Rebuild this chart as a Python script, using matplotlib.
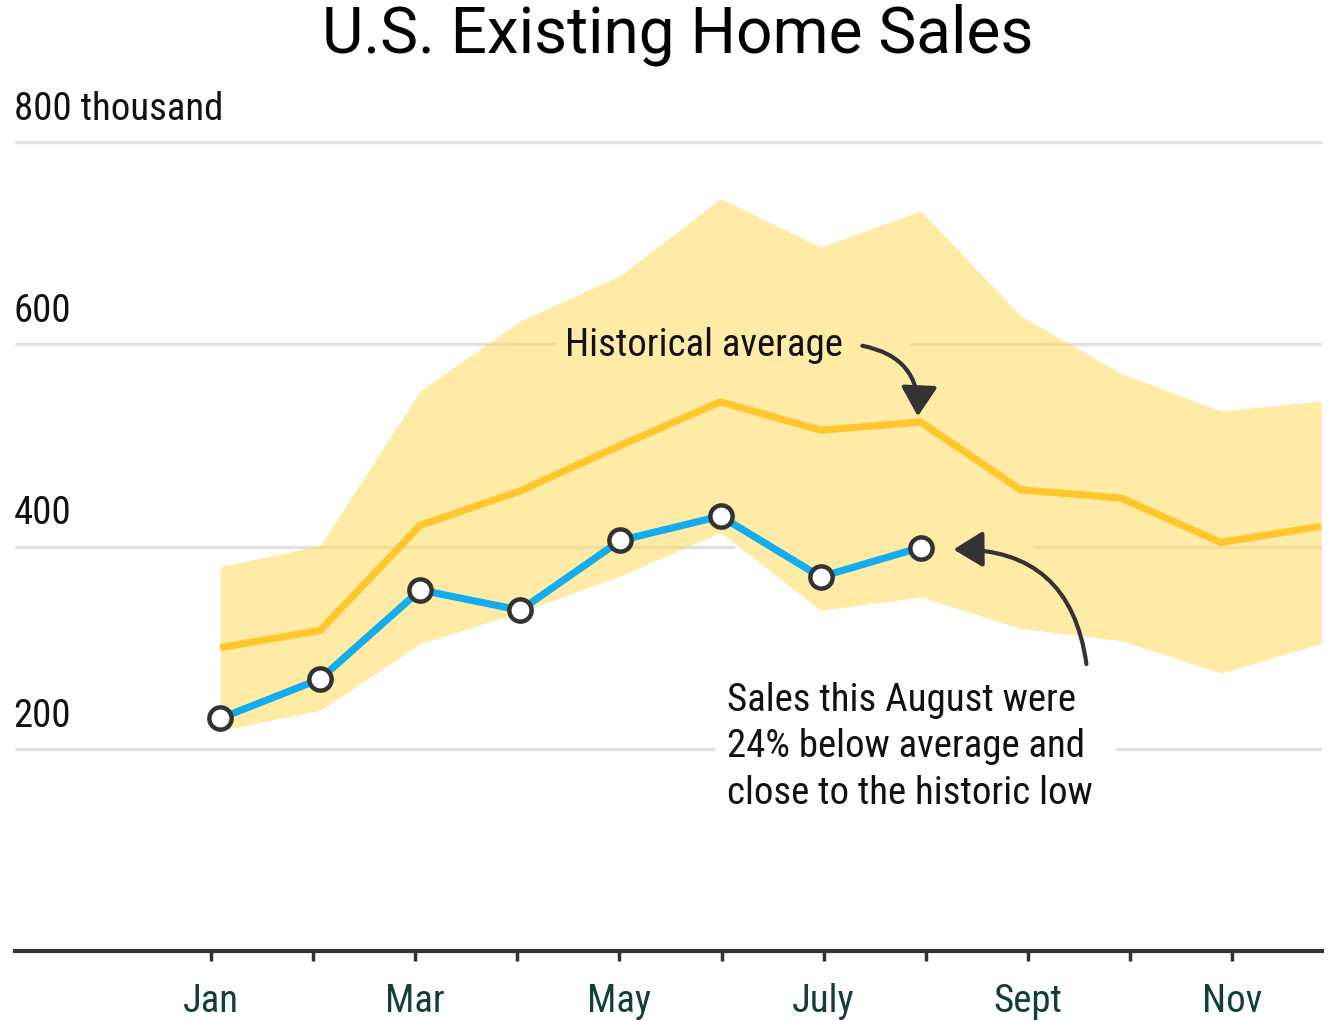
"""U.S. existing home sales vs. historical range (headless Agg)."""
import matplotlib

matplotlib.use("Agg")
import matplotlib.pyplot as plt
from matplotlib.patches import FancyArrowPatch
import numpy as np

# --- data (thousands) ---
months = ["Jan", "Feb", "Mar", "Apr", "May", "Jun",
          "Jul", "Aug", "Sep", "Oct", "Nov", "Dec"]
tick_labels = ["Jan", "", "Mar", "", "May", "", "July", "", "Sept", "", "Nov"]
sales_2022 = [230, 269, 357, 337, 406, 430, 370, 399]          # Jan..Aug
hist_avg = [300, 317, 421, 455, 500, 543, 515, 523, 456, 448, 404, 420]
hist_high = [380, 401, 554, 623, 668, 744, 696, 732, 628, 571, 534, 544]
hist_low = [218, 238, 304, 335, 371, 414, 337, 350, 319, 307, 275, 304]
gridlines = [200, 400, 600, 800]

NARROW = ["Liberation Sans Narrow", "Roboto Condensed", "DejaVu Sans"]
GRID = "#e2e2e2"
BAND = "#ffd95e"
AVG = "#ffc72c"
BLUE = "#12adee"
DARK = "#333333"
FS = 28

fig = plt.figure(figsize=(13.28, 10.21), dpi=100)
ax = fig.add_axes([15 / 1328, 70 / 1021, 1307 / 1328, 809 / 1021])
x = np.arange(len(months))
XMIN, XMAX = -2.05, 11.01
ax.set_xlim(XMIN, XMAX)
ax.set_ylim(0, 800)

# gridlines, with gaps where the annotations sit
gaps = {600: (3.35, 6.89), 400: (5.14, 8.14), 200: (4.94, 8.94)}
for g in gridlines:
    if g in gaps:
        a, b = gaps[g]
        ax.hlines(g, XMIN, a, color=GRID, lw=2.4, zorder=1)
        ax.hlines(g, b, XMAX, color=GRID, lw=2.4, zorder=1)
    else:
        ax.hlines(g, XMIN, XMAX, color=GRID, lw=2.4, zorder=1, clip_on=False)

# y labels sit above the gridlines
for g in gridlines:
    lab = f"{g} thousand" if g == 800 else str(g)
    ax.annotate(lab, xy=(0, g), xycoords=("axes fraction", "data"),
                xytext=(-1, 16), textcoords="offset points",
                ha="left", va="baseline", fontsize=FS, color="#111111",
                family=NARROW, annotation_clip=False)

ax.fill_between(x, hist_low, hist_high, color=BAND, alpha=0.55, lw=0, zorder=2)
ax.plot(x, hist_avg, color=AVG, lw=5.2, solid_capstyle="butt",
        solid_joinstyle="round", zorder=3)
xs = x[:len(sales_2022)]
ax.plot(xs, sales_2022, color=BLUE, lw=5.2, solid_joinstyle="round", zorder=4)
ax.plot(xs, sales_2022, ls="none", marker="o", ms=16, mfc="white",
        mec=DARK, mew=3.2, zorder=5)

# annotations
ax.text(3.45, 599, "Historical average", fontsize=FS, family=NARROW,
        ha="left", va="center", color="#111111", zorder=6)
ax.add_patch(FancyArrowPatch((6.39, 599), (6.97, 526),
                             connectionstyle="arc3,rad=-0.45",
                             arrowstyle="-|>,head_length=0.9,head_width=0.55",
                             mutation_scale=20, color=DARK, lw=3, zorder=6))
ax.text(5.06, 202, "Sales this August were\n24% below average and\nclose to the historic low",
        fontsize=FS, family=NARROW, ha="left", va="center",
        linespacing=1.32, color="#111111", zorder=6)
ax.add_patch(FancyArrowPatch((8.66, 281), (7.3, 397),
                             connectionstyle="arc3,rad=0.45",
                             arrowstyle="-|>,head_length=0.9,head_width=0.55",
                             mutation_scale=20, color=DARK, lw=3, zorder=6))

# axes styling
for s in ["top", "right", "left"]:
    ax.spines[s].set_visible(False)
ax.spines["bottom"].set_color(DARK)
ax.spines["bottom"].set_linewidth(3)
ax.set_yticks([])
tick_pos = -0.09 + 1.02 * np.arange(len(tick_labels))
ax.set_xticks(tick_pos)
ax.set_xticklabels(tick_labels, family=NARROW, fontsize=FS, color="#123f3b")
ax.tick_params(axis="x", direction="out", length=7, width=2.5, color=DARK, pad=16)

fig.text(0.51, 0.997, "U.S. Existing Home Sales", ha="center", va="top",
         fontsize=46, family=["Roboto", "DejaVu Sans"], color="black")

fig.savefig("out.png", dpi=100)
plt.close(fig)
